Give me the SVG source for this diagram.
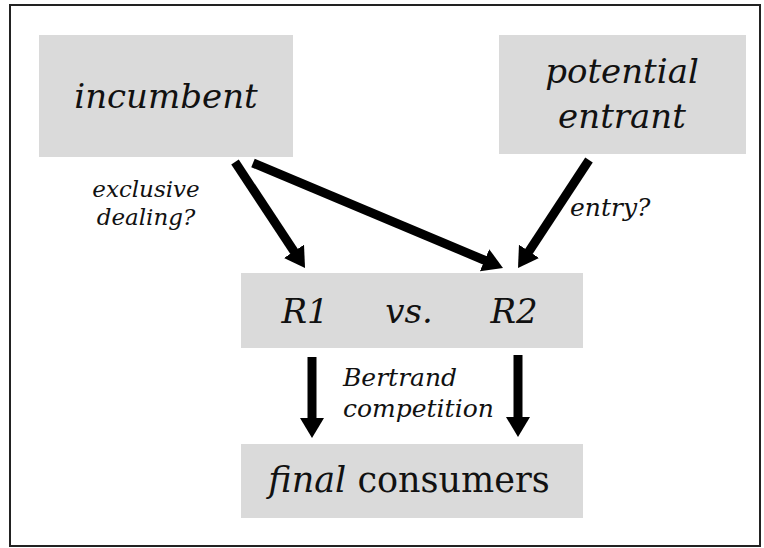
<svg xmlns="http://www.w3.org/2000/svg" width="764" height="548" viewBox="0 0 764 548">
<style>
.box{fill:#dadada;}
.t{font-family:"DejaVu Serif","Liberation Serif",serif;fill:#111;}
.it{font-style:italic;}
.big{font-size:34px;}
.sm{font-size:25px;}
.arr{stroke:#000;stroke-width:9;fill:none;}
</style>
<defs>
<marker id="ah" markerUnits="userSpaceOnUse" markerWidth="22" markerHeight="24" refX="2" refY="12" orient="auto">
<path d="M0,0 L20,12 L0,24 z" fill="#000"/>
</marker>
</defs>
<rect x="0" y="0" width="764" height="548" fill="#fff"/>
<rect x="10" y="5" width="750" height="541" fill="#fff" stroke="#222" stroke-width="2"/>
<g id="incumbent">
<rect class="box" x="39" y="35" width="254" height="122"/>
<text class="t it big" x="166" y="108" text-anchor="middle">incumbent</text>
</g>
<g id="potential-entrant">
<rect class="box" x="499" y="35" width="247" height="119"/>
<text class="t it big" x="622" y="83" text-anchor="middle"><tspan x="622" y="83">potential</tspan><tspan x="622" y="128">entrant</tspan></text>
</g>
<g id="retailers">
<rect class="box" x="241" y="273" width="342" height="75"/>
<text class="t it big" x="305" y="323" text-anchor="middle">R1</text>
<text class="t it big" x="409" y="323" text-anchor="middle">vs.</text>
<text class="t it big" x="514" y="323" text-anchor="middle">R2</text>
</g>
<g id="final-consumers">
<rect class="box" x="241" y="444" width="342" height="74"/>
<text class="t" x="409" y="492" text-anchor="middle" font-size="35"><tspan class="it">final</tspan> consumers</text>
</g>
<g id="connectors">
<line class="arr" x1="235" y1="162" x2="295.1" y2="253" marker-end="url(#ah)"/>
<line class="arr" x1="253" y1="163" x2="486.4" y2="261" marker-end="url(#ah)"/>
<line class="arr" x1="589" y1="160" x2="527.9" y2="253" marker-end="url(#ah)"/>
<line class="arr" x1="312" y1="357" x2="312" y2="420" marker-end="url(#ah)"/>
<line class="arr" x1="518" y1="355" x2="518" y2="419" marker-end="url(#ah)"/>
</g>
<g id="labels">
<text class="t it" font-size="23" x="146" y="197" text-anchor="middle"><tspan x="146" y="197">exclusive</tspan><tspan x="146" y="225">dealing?</tspan></text>
<text class="t it sm" x="570" y="216">entry?</text>
<text class="t it sm" x="343" y="386"><tspan x="343" y="386">Bertrand</tspan><tspan x="343" y="417">competition</tspan></text>
</g>
</svg>
